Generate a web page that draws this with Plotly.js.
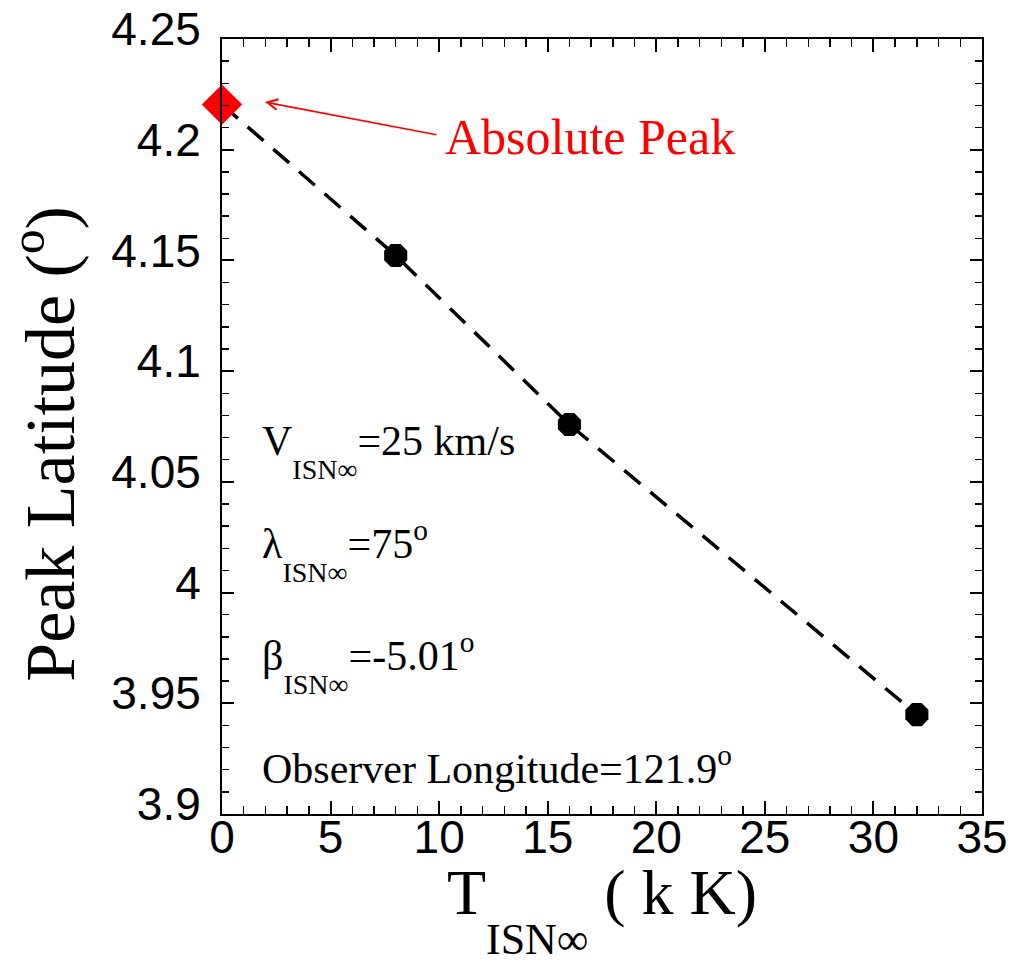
<!DOCTYPE html>
<html>
<head>
<meta charset="utf-8">
<script src="https://cdn.plot.ly/plotly-3.0.1.min.js"></script>
<style>html,body{margin:0;padding:0;background:#fff;}</style>
</head>
<body>
<div id="chart" style="width:1015px;height:964px;"></div>
<script>
// ---- data ----
var tempKK = [8, 16, 32];
var peakLat = [4.1522, 4.0759, 3.9449];
var absPeakT = [0];
var absPeakLat = [4.2204];
var curveT = [0, 8, 16, 32];
var curveLat = [4.2204, 4.1522, 4.0759, 3.9449];
var xTickVals = [0, 5, 10, 15, 20, 25, 30, 35];
var xTickText = ['0', '5', '10', '15', '20', '25', '30', '35'];
var yTickVals = [3.9, 3.95, 4.0, 4.05, 4.1, 4.15, 4.2, 4.25];
var yTickText = ['3.9', '3.95', '4', '4.05', '4.1', '4.15', '4.2', '4.25'];

var SERIF = 'Liberation Serif, Times New Roman, serif';
var SANS = 'Liberation Sans, Arial, sans-serif';
function sub(t, px, shift) {
  return '<span style="font-size:' + px + 'px;baseline-shift:-' + shift + 'px">' + t + '</span>';
}

var traces = [
  {
    x: curveT, y: curveLat, type: 'scatter', mode: 'lines',
    line: {color: '#000', width: 3.5, dash: '21px,13px'},
    hoverinfo: 'skip', showlegend: false
  },
  {
    x: tempKK, y: peakLat, type: 'scatter', mode: 'markers',
    marker: {symbol: 'octagon', size: 25, color: '#000'},
    showlegend: false, cliponaxis: false
  },
  {
    x: absPeakT, y: absPeakLat, type: 'scatter', mode: 'markers',
    marker: {symbol: 'diamond', size: 31, color: '#ff0000'},
    showlegend: false, cliponaxis: false
  }
];

var axisCommon = {
  showline: true, linewidth: 2, linecolor: '#000', mirror: 'ticks',
  ticks: 'inside', tickwidth: 2, tickcolor: '#000',
  showgrid: false, zeroline: false, fixedrange: true
};

var layout = {
  width: 1015, height: 964,
  margin: {l: 222, r: 33, t: 39, b: 150, pad: 0},
  paper_bgcolor: '#fff', plot_bgcolor: '#fff',
  showlegend: false,
  xaxis: Object.assign({}, axisCommon, {
    range: [0, 35], tickvals: xTickVals, ticktext: xTickText, ticklen: 13,
    minor: {dtick: 1, tick0: 0, ticks: 'inside', ticklen: 8, tickwidth: 1.5, tickcolor: '#000'},
    tickfont: {family: SANS, size: 46, color: '#000'},
    ticklabelstandoff: -18,
    title: {text: 'T' + sub('ISN∞', 44, 40) + ' ( k K)', font: {family: SERIF, size: 64, color: '#000'}, standoff: 36}
  }),
  yaxis: Object.assign({}, axisCommon, {
    range: [3.9, 4.25], tickvals: yTickVals, ticktext: yTickText, ticklen: 12,
    minor: {dtick: 0.01, tick0: 3.9, ticks: 'inside', ticklen: 7, tickwidth: 1.5, tickcolor: '#000'},
    tickfont: {family: SANS, size: 46, color: '#000'},
    ticklabelshift: -10, ticklabelstandoff: 10,
    title: {text: 'Peak Latitude (<sup>o</sup>)<span>\u00a0\u00a0</span>', font: {family: SERIF, size: 70, color: '#000'}, standoff: 14}
  }),
  annotations: [
    {xref: 'paper', yref: 'paper', x: 0.05, y: 0.514, xanchor: 'left', yanchor: 'top', showarrow: false,
     text: 'V' + sub('ISN∞', 28, 24) + '=25 km/s', font: {family: SERIF, size: 42, color: '#000'}},
    {xref: 'paper', yref: 'paper', x: 0.05, y: 0.39, xanchor: 'left', yanchor: 'top', showarrow: false,
     text: 'λ' + sub('ISN∞', 28, 24) + '=75<sup>o</sup>', font: {family: SERIF, size: 42, color: '#000'}},
    {xref: 'paper', yref: 'paper', x: 0.05, y: 0.245, xanchor: 'left', yanchor: 'top', showarrow: false,
     text: 'β' + sub('ISN∞', 28, 24) + '=-5.01<sup>o</sup>', font: {family: SERIF, size: 42, color: '#000'}},
    {xref: 'paper', yref: 'paper', x: 0.05, y: 0.099, xanchor: 'left', yanchor: 'top', showarrow: false,
     text: 'Observer Longitude=121.9<sup>o</sup>', font: {family: SERIF, size: 42, color: '#000'}},
    {xref: 'paper', yref: 'paper', x: 0.484, y: 0.874, xanchor: 'center', yanchor: 'middle', showarrow: false,
     text: 'Absolute Peak', font: {family: SERIF, size: 50, color: '#ff0000'}},
    {xref: 'x', yref: 'y', x: 1.98, y: 4.2215, ax: 173, ay: 33, text: ' ', font: {size: 1},
     showarrow: true, arrowhead: 5, arrowsize: 1.3, arrowwidth: 1.6, arrowcolor: '#ff0000', standoff: 0}
  ]
};

Plotly.newPlot('chart', traces, layout, {staticPlot: true, displayModeBar: false});
</script>
</body>
</html>
